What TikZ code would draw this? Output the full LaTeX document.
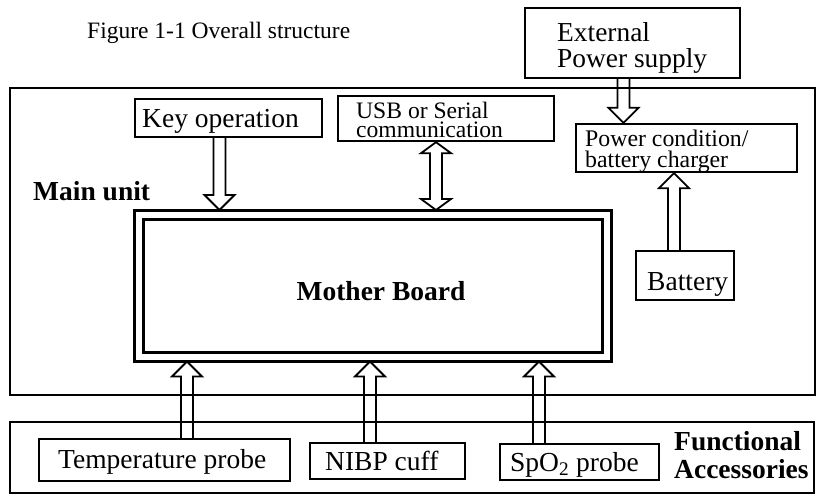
\documentclass[tikz,border=0pt]{standalone}
\usepackage{fontspec}
\setmainfont{Liberation Serif}
\usetikzlibrary{calc}
\newcommand\aw{6pt}
\newcommand\ahw{15pt}
\newcommand\ahl{15pt}
\newcommand\ahs{11pt}
\tikzset{
  box/.style={draw, line width=2.4pt, inner sep=0pt},
  dbl/.style={draw, double, double distance=6pt, line width=3pt, inner sep=0pt, outer sep=4.5pt},
  txt/.style={inner sep=0pt, anchor=base west, font=\fontsize{27.5}{27}\selectfont},
  bld/.style={font=\fontsize{27.5}{28}\selectfont\bfseries},
  blk/.style={draw, line width=1.8pt, line join=miter, to path={
    ($(\tikztostart)!\aw!90:(\tikztotarget)$)
    -- ($(\tikztotarget)!\ahl!(\tikztostart)!\aw!90:(\tikztotarget)$)
    -- ($(\tikztotarget)!\ahl!(\tikztostart)!\ahw!90:(\tikztotarget)$)
    -- (\tikztotarget)
    -- ($(\tikztotarget)!\ahl!(\tikztostart)!\ahw!-90:(\tikztotarget)$)
    -- ($(\tikztotarget)!\ahl!(\tikztostart)!\aw!-90:(\tikztotarget)$)
    -- ($(\tikztostart)!\aw!-90:(\tikztotarget)$)
  }},
  blkd/.style={draw, line width=1.8pt, line join=miter, to path={
    -- ($(\tikztostart)!\ahs!(\tikztotarget)!\ahw!90:(\tikztotarget)$)
    -- ($(\tikztostart)!\ahs!(\tikztotarget)!\aw!90:(\tikztotarget)$)
    -- ($(\tikztotarget)!\ahs!(\tikztostart)!\aw!90:(\tikztotarget)$)
    -- ($(\tikztotarget)!\ahs!(\tikztostart)!\ahw!90:(\tikztotarget)$)
    -- (\tikztotarget)
    -- ($(\tikztotarget)!\ahs!(\tikztostart)!\ahw!-90:(\tikztotarget)$)
    -- ($(\tikztotarget)!\ahs!(\tikztostart)!\aw!-90:(\tikztotarget)$)
    -- ($(\tikztostart)!\ahs!(\tikztotarget)!\aw!-90:(\tikztotarget)$)
    -- ($(\tikztostart)!\ahs!(\tikztotarget)!\ahw!-90:(\tikztotarget)$)
    -- cycle
  }}
}
\begin{document}
\begin{tikzpicture}[x=1pt,y=-1pt]
\useasboundingbox (0,0) rectangle (817,495);
% boxes
\node[box, minimum width=805, minimum height=307] (main) at (412.5,241.5) {};
\node[box, minimum width=804, minimum height=71] (acc) at (412,457.5) {};
\node[box, minimum width=215, minimum height=70] (ext) at (632.5,43) {};
\node[box, minimum width=187, minimum height=38] (key) at (228.5,118) {};
\node[box, minimum width=216, minimum height=45] (usb) at (446,118.5) {};
\node[box, minimum width=221, minimum height=48] (pwr) at (686.5,148) {};
\node[dbl, minimum width=468, minimum height=142.5] (mb) at (372.5,285.75) {};
\node[box, line width=2pt, minimum width=98, minimum height=49] (bat) at (685,275.5) {};
\node[box, minimum width=251, minimum height=42] (temp) at (164.5,460) {};
\node[box, line width=2pt, minimum width=155, minimum height=36] (nibp) at (387.5,461) {};
\node[box, line width=2pt, minimum width=159, minimum height=36] (spo) at (579.5,462) {};
% texts (multi-line texts are placed by the baseline of their last line)
\node[txt, font=\fontsize{23.5}{24}\selectfont] (ttl) at (87,39) {Figure 1-1 Overall structure};
\node[txt, align=left, font=\fontsize{27.4}{25}\selectfont] (extt) at (557,67) {External\\Power supply};
\node[txt] (keyt) at (142,128) {Key operation};
\node[txt, align=left, font=\fontsize{23.6}{19}\selectfont] (usbt) at (356,137) {USB or Serial\\communication};
\node[txt, align=left, font=\fontsize{23.8}{20.5}\selectfont] (pwrt) at (585,167) {Power condition/\\battery charger};
\node[txt, bld] (mainl) at (33,200) {Main unit};
\node[txt, bld, anchor=base] (mbt) at (381,300) {Mother Board};
\node[txt] (batt) at (647,290) {Battery};
\node[txt] (tempt) at (58,468) {Temperature probe};
\node[txt] (nibpt) at (325,470) {NIBP cuff};
\node[txt] (spot) at (510,471) {SpO\textsubscript{2} probe};
\node[txt, bld, align=left] (acct) at (674,478) {Functional\\Accessories};
% arrow x positions
\coordinate (xk) at (219.5,0);
\coordinate (xu) at (436,0);
\coordinate (xe) at (623.5,0);
\coordinate (xb) at (674,0);
\coordinate (xt) at (187,0);
\coordinate (xn) at (370,0);
\coordinate (xs) at (539,0);
\coordinate (k1) at (key.south -| xk);
\coordinate (k2) at (mb.north -| xk);
\coordinate (u1) at (usb.south -| xu);
\coordinate (u2) at (mb.north -| xu);
\coordinate (e1) at (ext.south -| xe);
\coordinate (e2) at (pwr.north -| xe);
\coordinate (b1) at (bat.north -| xb);
\coordinate (b2) at (pwr.south -| xb);
\coordinate (t1) at (temp.north -| xt);
\coordinate (t2) at (mb.south -| xt);
\coordinate (n1) at (nibp.north -| xn);
\coordinate (n2) at (mb.south -| xn);
\coordinate (s1) at (spo.north -| xs);
\coordinate (s2) at (mb.south -| xs);
% connectors
\draw[blk] (k1) to (k2);
\draw[blkd] (u1) to (u2);
\draw[blk] (e1) to (e2);
\draw[blk] (b1) to (b2);
\draw[blk] (t1) to (t2);
\draw[blk] (n1) to (n2);
\draw[blk] (s1) to (s2);
\end{tikzpicture}
\end{document}
